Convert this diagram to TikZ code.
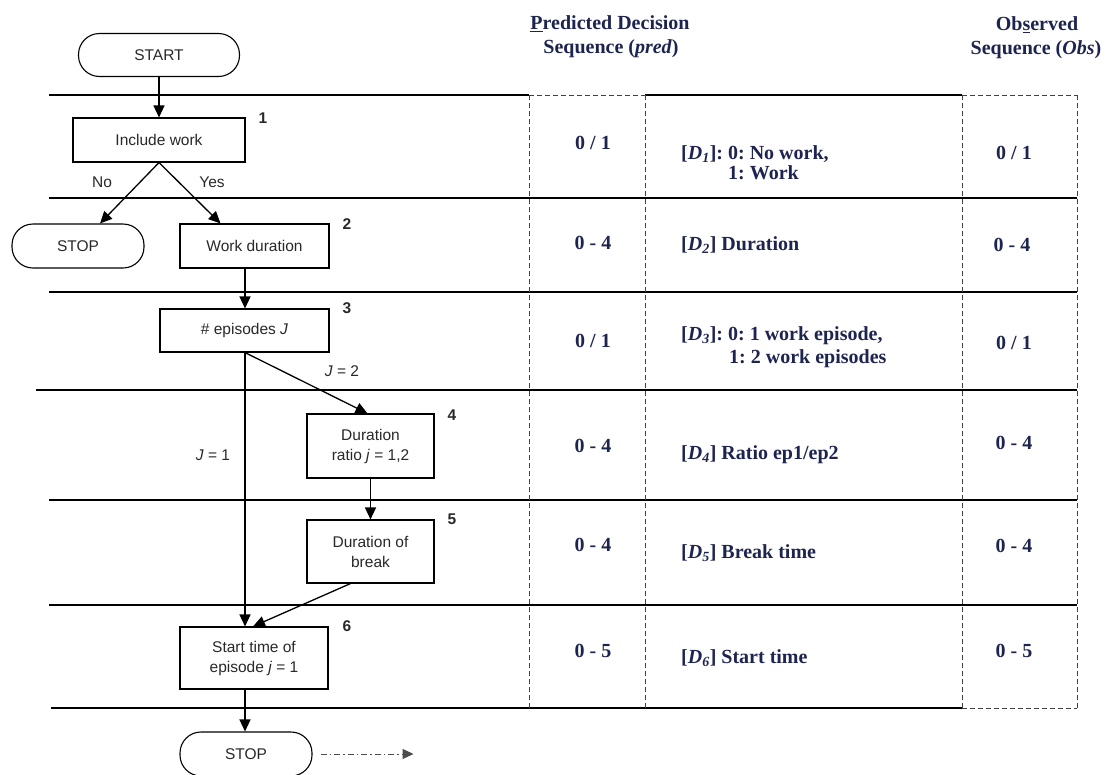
\documentclass[tikz,border=0pt]{standalone}
\usepackage{fontspec}
\setmainfont{Liberation Serif}
\newfontfamily\arialf{Liberation Sans}
\usetikzlibrary{arrows.meta,calc}
\definecolor{navy}{RGB}{30,36,80}
\definecolor{fctext}{RGB}{40,40,40}
\frenchspacing
\begin{document}
\begin{tikzpicture}[x=1pt,y=-1pt,
  box/.style={draw=black, line width=1.1pt, inner sep=0pt, align=center,
    font=\arialf\fontsize{15.5}{20}\selectfont, text=fctext},
  term/.style={box, rounded corners=21pt},
  arr/.style={line width=1.3pt, -{Triangle[length=12pt,width=11pt]}},
  hl/.style={line width=1.3pt},
  dl/.style={line width=1pt, dash pattern=on 5pt off 3pt, draw=black!75},
  tt/.style={font=\bfseries\fontsize{20}{23}\selectfont, text=navy, inner sep=0pt},
  ttl/.style={tt, anchor=west},
  num/.style={font=\arialf\bfseries\fontsize{15.5}{17}\selectfont, text=fctext, inner sep=0pt},
  lab/.style={font=\arialf\fontsize{15.5}{17}\selectfont, text=fctext, inner sep=0pt}]
\useasboundingbox (0,0) rectangle (1105,774);

% ---- table rules ----
\draw[hl] (49,95) -- (529,95) (645,95) -- (962,95);
\draw[hl] (49,198) -- (1077,198);
\draw[hl] (49,292) -- (1077,292);
\draw[hl] (36,390) -- (1077,390);
\draw[hl] (49,500) -- (1077,500);
\draw[hl] (49,605) -- (1077,605);
\draw[hl] (51,708) -- (962,708);
\draw[dl] (529,95) -- (645,95) (962,95) -- (1077,95) (962,708) -- (1077,708);
\draw[dl] (529,95) -- (529,708);
\draw[dl] (645,95) -- (645,708);
\draw[dl] (962,95) -- (962,708);
\draw[dl] (1077,95) -- (1077,708);

% ---- headers ----
\node[tt] (h1a) at (610,24) {\underline{P}redicted Decision};
\node[tt] (h1b) at (611,49) {Sequence (\textit{pred})};
\node[tt] (h2a) at (1037,25) {Ob\underline{s}erved};
\node[tt] (h2b) at (1036,50) {Sequence (\textit{Obs})};

% ---- table contents ----
\node[tt] (p1) at (593,143) {0 / 1};
\node[ttl] (d1a) at (681,154) {[\textit{D}\textsubscript{\textit{1}}]: 0: No work,};
\node[ttl] (d1b) at (728,173) {1: Work};
\node[tt] (o1) at (1014,153) {0 / 1};

\node[tt] (p2) at (593,243) {0 - 4};
\node[ttl] (d2) at (681,245) {[\textit{D}\textsubscript{\textit{2}}] Duration};
\node[tt] (o2) at (1012,245) {0 - 4};

\node[tt] (p3) at (593,341) {0 / 1};
\node[ttl] (d3a) at (681,336) {[\textit{D}\textsubscript{\textit{3}}]: 0: 1 work episode,};
\node[ttl] (d3b) at (729,359) {1: 2 work episodes};
\node[tt] (o3) at (1014,343) {0 / 1};

\node[tt] (p4) at (593,446) {0 - 4};
\node[ttl] (d4) at (681,455) {[\textit{D}\textsubscript{\textit{4}}] Ratio ep1/ep2};
\node[tt] (o4) at (1014,443) {0 - 4};

\node[tt] (p5) at (593,545) {0 - 4};
\node[ttl] (d5) at (681,553) {[\textit{D}\textsubscript{\textit{5}}] Break time};
\node[tt] (o5) at (1014,546) {0 - 4};

\node[tt] (p6) at (593,651) {0 - 5};
\node[ttl] (d6) at (681,658) {[\textit{D}\textsubscript{\textit{6}}] Start time};
\node[tt] (o6) at (1014,651) {0 - 5};

% ---- flowchart ----
\node[term, minimum width=161pt, minimum height=43pt] (start) at (159,55) {START};
\node[box, minimum width=172pt, minimum height=44pt] (inc) at (159,140) {Include work};
\node[term, minimum width=132pt, minimum height=44pt] (stop1) at (78,246) {STOP};
\node[box, minimum width=149pt, minimum height=44pt] (wd) at (254.5,246) {Work duration};
\node[box, minimum width=169pt, minimum height=43pt] (ep) at (244.5,330.5) {\# episodes \textit{J}};
\node[box, minimum width=127pt, minimum height=64pt] (dr) at (370.5,446) {Duration\\ratio \textit{j} = 1,2};
\node[box, minimum width=127pt, minimum height=63pt] (db) at (370.5,551.5) {Duration of\\break};
\node[box, minimum width=148pt, minimum height=62pt] (st) at (254,658) {Start time of\\episode \textit{j} = 1};
\node[term, minimum width=132pt, minimum height=44pt] (stop2) at (246,754) {STOP};

\node[num] (n1) at (263,118) {1};
\node[num] (n2) at (347,224) {2};
\node[num] (n3) at (347,308) {3};
\node[num] (n4) at (452,415) {4};
\node[num] (n5) at (452,519) {5};
\node[num] (n6) at (347,626) {6};

\node[lab] (lno) at (102,182) {No};
\node[lab] (lyes) at (212,182) {Yes};
\node[lab] (lj2) at (342,371) {\textit{J} = 2};
\node[lab] (lj1) at (213,455) {\textit{J} = 1};

\coordinate (vx) at (245,0);
\coordinate (dend) at ($(stop2.east)+(101,0)$);

\draw[arr] (start.south) -- (inc.north);
\draw[arr] (inc.south) -- ($(stop1.north)+(22,0)$);
\draw[arr] (inc.south) -- ($(wd.north)+(-34,0)$);
\draw[arr] (wd.south -| vx) -- (ep.north -| vx);
\draw[arr] (ep.south -| vx) -- ($(dr.north)+(-3,0)$);
\draw[arr] (ep.south -| vx) -- (st.north -| vx);
\draw[arr] (dr.south) -- (db.north);
\draw[arr] ($(db.south)+(-20,0)$) -- ($(st.north)+(-1,0)$);
\draw[arr] (st.south -| vx) -- (stop2.north -| vx);
\draw[line width=1pt, draw=black!70, dash pattern=on 6pt off 3pt on 1.5pt off 3pt,
  -{Triangle[length=11pt,width=10pt]}] ($(stop2.east)+(8,0)$) -- (dend);
\end{tikzpicture}
\end{document}
